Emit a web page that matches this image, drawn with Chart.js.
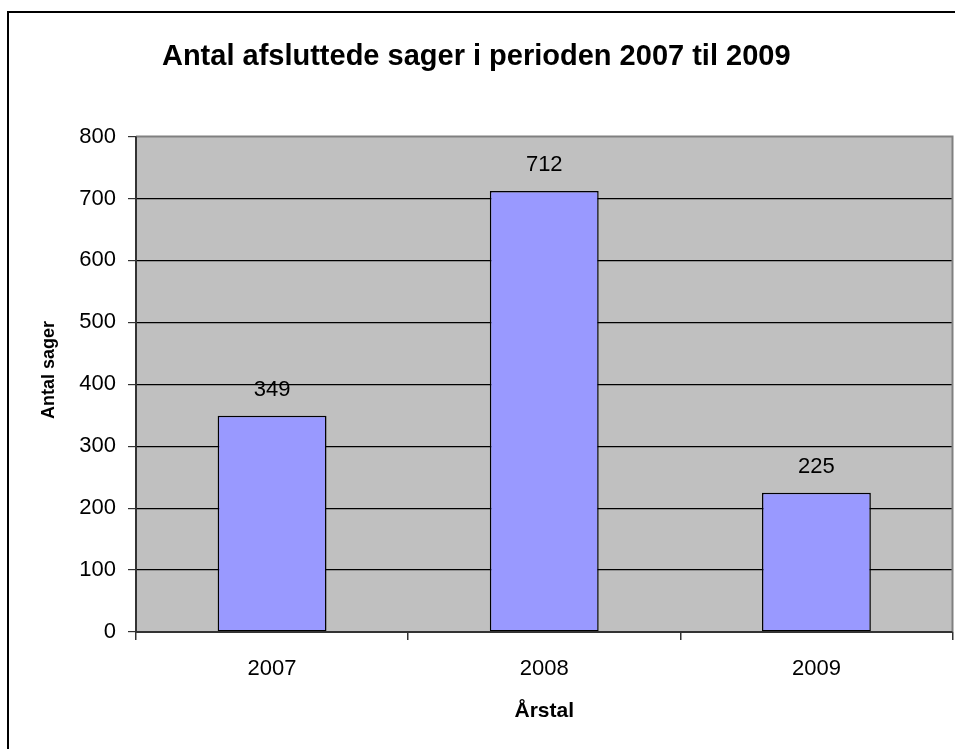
<!DOCTYPE html>
<html>
<head>
<meta charset="utf-8">
<script src="https://cdn.jsdelivr.net/npm/chart.js@4"></script>
<style>
html,body{margin:0;padding:0;background:#fff;}
#wrap{position:relative;width:955px;height:749px;}
</style>
</head>
<body>
<div id="wrap"><canvas id="c" width="955" height="749"></canvas></div>
<script>
const chartTitle = 'Antal afsluttede sager i perioden 2007 til 2009';
const categories = ['2007', '2008', '2009'];
const seriesValues = [349, 712, 225];
const yTicks = [0, 100, 200, 300, 400, 500, 600, 700, 800];
const xTitle = 'Årstal';
const yTitle = 'Antal sager';

const FONT = '"Liberation Sans", Arial, sans-serif';

const framePlugin = {
  id: 'frame',
  beforeDraw(chart) {
    const {ctx, chartArea: a} = chart;
    ctx.save();
    ctx.fillStyle = '#ffffff';
    ctx.fillRect(0, 0, chart.width, chart.height);
    ctx.strokeStyle = '#000';
    ctx.lineWidth = 2;
    ctx.beginPath();
    ctx.moveTo(8, chart.height + 2);
    ctx.lineTo(8, 12);
    ctx.lineTo(chart.width + 2, 12);
    ctx.stroke();
    ctx.fillStyle = '#c0c0c0';
    ctx.fillRect(a.left, a.top, a.right - a.left, a.bottom - a.top);
    ctx.restore();
  },
  afterDatasetsDraw(chart) {
    const {ctx, chartArea: a} = chart;
    ctx.save();
    ctx.strokeStyle = '#808080';
    ctx.lineWidth = 2;
    ctx.beginPath();
    ctx.moveTo(a.left, a.top);
    ctx.lineTo(a.right, a.top);
    ctx.lineTo(a.right, a.bottom);
    ctx.stroke();
    ctx.strokeStyle = '#333';
    ctx.lineWidth = 2;
    ctx.beginPath();
    ctx.moveTo(a.left, a.top);
    ctx.lineTo(a.left, a.bottom);
    ctx.lineTo(a.right, a.bottom);
    ctx.stroke();
    // data labels
    const meta = chart.getDatasetMeta(0);
    ctx.fillStyle = '#000';
    ctx.font = '22px ' + FONT;
    ctx.textAlign = 'center';
    ctx.textBaseline = 'middle';
    meta.data.forEach((bar, i) => {
      ctx.fillText(String(chart.data.datasets[0].data[i]), bar.x, bar.y - 26);
    });
    // y axis title
    ctx.font = 'bold 18px ' + FONT;
    ctx.translate(49, 370);
    ctx.rotate(-Math.PI / 2);
    ctx.fillText(yTitle, 0, 0);
    ctx.restore();
  }
};

new Chart(document.getElementById('c'), {
  type: 'bar',
  data: {
    labels: categories,
    datasets: [{
      data: seriesValues,
      backgroundColor: '#9999ff',
      borderColor: '#000000',
      borderWidth: 1.5,
      borderSkipped: false,
      barPercentage: 0.4,
      categoryPercentage: 1.0
    }]
  },
  options: {
    responsive: false,
    animation: false,
    devicePixelRatio: 1,
    layout: {padding: {left: 0, right: 2.5, top: 0, bottom: 0}},
    plugins: {
      legend: {display: false},
      tooltip: {enabled: false},
      title: {
        display: true,
        text: chartTitle,
        color: '#000',
        font: {family: FONT, size: 29, weight: 'bold'},
        padding: {top: 40, bottom: 61.7}
      }
    },
    scales: {
      x: {
        afterFit(s) { s.height = 117; },
        border: {display: false},
        grid: {
          offset: true,
          drawOnChartArea: false,
          drawTicks: true,
          tickLength: 8,
          tickColor: '#333',
          lineWidth: 1.5
        },
        ticks: {color: '#000', font: {family: FONT, size: 22}, padding: 16, maxRotation: 0},
        title: {
          display: true,
          text: xTitle,
          color: '#000',
          font: {family: FONT, size: 21, weight: 'bold'},
          padding: {top: 0, bottom: 25}
        }
      },
      y: {
        min: 0,
        max: 800,
        afterFit(s) { s.width = 136; },
        afterBuildTicks(s) { s.ticks = yTicks.map(v => ({value: v})); },
        border: {display: false},
        grid: {
          color: (ctx) => (ctx.tick && (ctx.tick.value === 0 || ctx.tick.value === 800)) ? 'rgba(0,0,0,0)' : '#000',
          lineWidth: 1.2,
          drawTicks: true,
          tickLength: 8,
          tickColor: '#333'
        },
        ticks: {color: '#000', font: {family: FONT, size: 22}, padding: 12},
        title: {display: false, text: yTitle}
      }
    }
  },
  plugins: [framePlugin]
});
</script>
</body>
</html>
